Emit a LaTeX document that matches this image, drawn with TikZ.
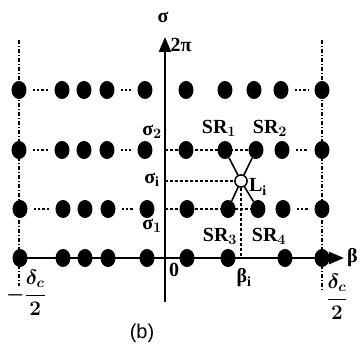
\documentclass[tikz,border=0pt]{standalone}
\usepackage{fontspec}
\setmainfont{Liberation Serif}
\newfontfamily\capfont{Liberation Sans}
\usepackage{amsmath}
\usetikzlibrary{arrows.meta,shapes.geometric}

\begin{document}
\begin{tikzpicture}[x=1pt,y=-1pt,
	point/.style={ellipse, fill=black, inner sep=0pt, minimum width=15pt, minimum height=18pt},
	hollow/.style={circle, draw=black, fill=white, line width=1.3pt, inner sep=0pt, minimum size=12pt},
	axis/.style={line width=2.6pt, -{Triangle[length=15pt,width=12pt]}},
	gap/.style={line width=2.6pt, dash pattern=on 2.2pt off 2.2pt, shorten <=6pt, shorten >=6pt},
	guide/.style={line width=1.2pt, dash pattern=on 3pt off 2pt},
	border/.style={line width=1.2pt, dash pattern=on 4pt off 2pt on 1pt off 2pt},
	cross/.style={line width=1.6pt},
	lbl/.style={font=\fontsize{20}{23}\selectfont\bfseries\boldmath, inner sep=1pt}]
		\useasboundingbox (0,0) rectangle (360,356);

		\coordinate (ltop) at (19,40);
		\coordinate (lbot) at (19,286);
		\coordinate (rtop) at (322,40);
		\coordinate (rbot) at (322,290);
		\draw[border] (ltop) -- (lbot);
		\draw[border] (rtop) -- (rbot);

		\coordinate (o) at (165,258);
		\coordinate (obot) at (165,302);
		\coordinate (otop) at (165,37);
		\coordinate (oleft) at (19,258);
		\coordinate (oright) at (344,258);
		\draw[axis] (oleft) -- (oright);
		\draw[axis] (obot) -- (otop);

		% row at 2pi
		\node[point] (a1) at (19,90) {};
		\node[point] (a2) at (62,90) {};
		\node[point] (a3) at (84,90) {};
		\node[point] (a4) at (107,90) {};
		\node[point] (a5) at (145,90) {};
		\node[point] (a6) at (186,90) {};
		\node[point] (a7) at (225,90) {};
		\node[point] (a8) at (254,90) {};
		\node[point] (a9) at (281,90) {};
		\node[point] (a10) at (322,90) {};

		% row at sigma_2
		\node[point] (b1) at (19,150) {};
		\node[point] (b2) at (62,150) {};
		\node[point] (b3) at (84,150) {};
		\node[point] (b4) at (107,150) {};
		\node[point] (b5) at (145,150) {};
		\node[point] (b6) at (186,150) {};
		\node[point] (b7) at (225,150) {};
		\node[point] (b8) at (256,150) {};
		\node[point] (b9) at (282,150) {};
		\node[point] (b10) at (322,150) {};

		% row at sigma_1
		\node[point] (c1) at (20,209) {};
		\node[point] (c2) at (63,209) {};
		\node[point] (c3) at (85,209) {};
		\node[point] (c4) at (108,209) {};
		\node[point] (c5) at (147,209) {};
		\node[point] (c6) at (187,209) {};
		\node[point] (c7) at (228,209) {};
		\node[point] (c8) at (258,209) {};
		\node[point] (c9) at (283,209) {};
		\node[point] (c10) at (322,209) {};

		% row on the beta axis
		\node[point] (d1) at (20,258) {};
		\node[point] (d2) at (63,258) {};
		\node[point] (d3) at (85,258) {};
		\node[point] (d4) at (108,258) {};
		\node[point] (d5) at (147,258) {};
		\node[point] (d6) at (187,258) {};
		\node[point] (d7) at (228,258) {};
		\node[point] (d9) at (285,258) {};
		\node[point] (d10) at (322,258) {};

		\draw[gap] (a1) -- (a2);
		\draw[gap] (a4) -- (a5);
		\draw[gap] (a9) -- (a10);
		\draw[gap] (b1) -- (b2);
		\draw[gap] (b4) -- (b5);
		\draw[gap] (b9) -- (b10);
		\draw[gap] (c1) -- (c2);
		\draw[gap] (c4) -- (c5);
		\draw[gap] (c9) -- (c10);
		\draw[gap] (d1) -- (d2);
		\draw[gap] (d4) -- (d5);
		\draw[gap] (d9) -- (d10);

		\coordinate (s2) at (165,150);
		\coordinate (s1) at (165,209);
		\coordinate (si) at (165,181);
		\coordinate (bi) at (241,258);
		\node[hollow] (L) at (241,181) {};
		\draw[guide] (s2) -- (b8);
		\draw[guide] (s1) -- (c8);
		\draw[guide] (si) -- (L);
		\draw[guide] (L) -- (bi);
		\draw[cross] (b7) -- (L) -- (c8);
		\draw[cross] (b8) -- (L) -- (c7);
		\node[hollow] at (L) {};

		\node[lbl] (sig) at (163,17) {σ};
		\node[lbl] (twopi) at (181,45) {2π};
		\node[lbl] (sig2) at (152,132) {σ$_2$};
		\node[lbl] (sigi) at (152,180) {σ$_\mathrm{i}$};
		\node[lbl] (sig1) at (152,226) {σ$_1$};
		\node[lbl] (sr1) at (219,128) {SR$_1$};
		\node[lbl] (sr2) at (270,128) {SR$_2$};
		\node[lbl] (sr3) at (220,236) {SR$_3$};
		\node[lbl] (sr4) at (269,236) {SR$_4$};
		\node[lbl] (li) at (258,187) {L$_\mathrm{i}$};
		\node[lbl] (zero) at (174,270) {0};
		\node[lbl] (beti) at (244,278) {β$_\mathrm{i}$};
		\node[lbl, anchor=west, inner sep=0pt] (bet) at (347,258) {β};
		\node[lbl] (dl) at (26,293) {$-\dfrac{\delta_c}{2}$};
		\node[lbl] (dr) at (337,297) {$\dfrac{\delta_c}{2}$};
		\node[lbl, font=\capfont\fontsize{20}{24}\selectfont] (cap) at (142,333) {(b)};
	\end{tikzpicture}
\end{document}
